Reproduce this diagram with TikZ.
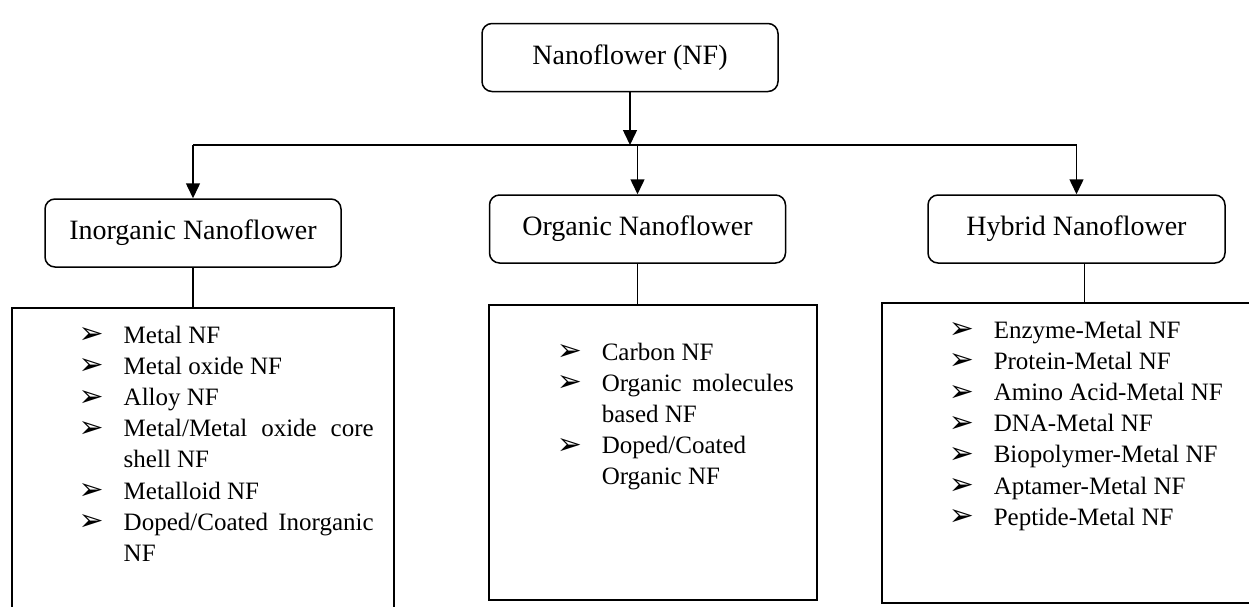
\documentclass[tikz,border=0pt]{standalone}
\usepackage{fontspec}
\setmainfont{Liberation Serif}
\newfontfamily\symfont{DejaVu Sans}
\usetikzlibrary{arrows.meta}

\tikzset{every picture/.style={line width=0.75pt}}
\tikzset{
	catbox/.style={draw, rounded corners=5pt, inner sep=0pt, minimum width=148pt, minimum height=34pt, font=\fontsize{14}{16}\selectfont},
	listbox/.style={draw, rectangle, inner sep=0pt},
	listtext/.style={anchor=base west, inner sep=0pt},
	nfarrow/.style={-{Triangle[length=7.5pt,width=7pt]}}
}
\newcommand{\nfitem}[1]{\par\noindent\hangindent=22.5pt\hangafter=1\makebox[22.5pt][l]{\raisebox{-0.3pt}{\symfont\bfseries\fontsize{15}{15}\selectfont ➢}}#1}
\newcommand{\nflist}[2]{\parbox[t]{#1}{\fontsize{12.5}{15.6}\selectfont\tolerance=9999\hyphenpenalty=10000\parskip=0pt #2}}

\begin{document}
\begin{tikzpicture}[x=0.5pt,y=0.5pt,yscale=-1]
	\useasboundingbox (0,0) rectangle (1249,606);
	\clip (0,0) rectangle (1249,606);
	
	%Rounded Rect
	\node [catbox] (nf) at (630,57.5) {Nanoflower (NF)};
	%Rounded Rect
	\node [catbox] (inorg) at (193,233) {Inorganic Nanoflower};
	%Rounded Rect
	\node [catbox] (org) at (637.5,229) {Organic Nanoflower};
	%Rounded Rect
	\node [catbox, minimum width=148.5pt] (hyb) at (1076.5,229) {Hybrid Nanoflower};
	
	%Shape: Rectangle
	\node [listbox, minimum width=191pt, minimum height=161pt] (inorglist) at (203,469) {};
	%Shape: Rectangle
	\node [listbox, minimum width=164pt, minimum height=147.5pt] (orglist) at (653,452.5) {};
	%Shape: Rectangle
	\node [listbox, minimum width=189pt, minimum height=150pt] (hyblist) at (1071,453) {};
	
	%Straight Lines
	\coordinate (bar) at (630,145);
	\draw (inorg |- bar) -- (hyb |- bar);
	\draw [nfarrow] (nf) -- (bar);
	\draw [nfarrow] (inorg |- bar) -- (inorg);
	\draw [nfarrow] (org |- bar) -- (org);
	\draw [nfarrow] (hyb |- bar) -- (hyb);
	%Straight Lines
	\draw (inorg) -- (inorg |- inorglist.north);
	\draw (org) -- (org |- orglist.north);
	\draw ([xshift=4pt]hyb.south) -- ([xshift=4pt]hyb.south |- hyblist.north);
	
	% Text Node
	\node [listtext] (inorgitems) at (78,343) {\nflist{147.5pt}{%
		\nfitem{Metal NF}
		\nfitem{Metal oxide NF}
		\nfitem{Alloy NF}
		\nfitem{Metal/Metal oxide core shell NF}
		\nfitem{Metalloid NF}
		\nfitem{Doped/Coated Inorganic NF}}};
	% Text Node
	\node [listtext] (orgitems) at (556,360) {\nflist{118.5pt}{%
		\nfitem{Carbon NF}
		\nfitem{Organic molecules based NF}
		\nfitem{Doped/Coated\newline Organic NF}}};
	% Text Node
	\node [listtext] (hybitems) at (948,338) {\nflist{160pt}{%
		\nfitem{Enzyme-Metal NF}
		\nfitem{Protein-Metal NF}
		\nfitem{Amino Acid-Metal NF}
		\nfitem{DNA-Metal NF}
		\nfitem{Biopolymer-Metal NF}
		\nfitem{Aptamer-Metal NF}
		\nfitem{Peptide-Metal NF}}};
	
\end{tikzpicture}
\end{document}
